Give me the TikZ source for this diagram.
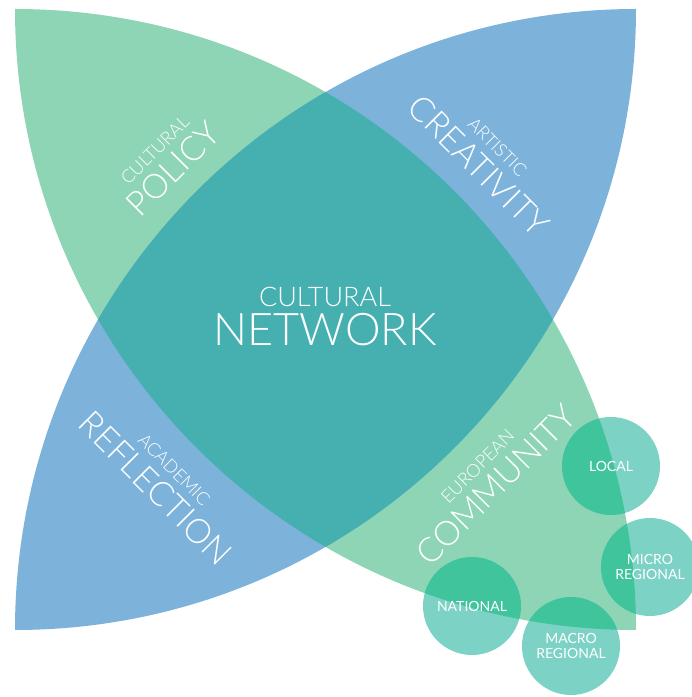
\documentclass[tikz,border=0pt]{standalone}
\usepackage{fontspec}
\setmainfont{Lato}
\newfontfamily\lightfont{Lato Light}
\definecolor{lgreen}{HTML}{8DD5B5}
\definecolor{lblue}{HTML}{7DB3DA}
\definecolor{mteal}{HTML}{46B0B0}
\definecolor{cirlight}{HTML}{7DD2C6}
\definecolor{cirdark}{HTML}{3FC49C}
\newcommand\greenlens{(15,688) arc[start angle=90,end angle=0,radius=621] arc[start angle=270,end angle=180,radius=621] -- cycle}
\newcommand\bluelens{(636,688) arc[start angle=90,end angle=180,radius=621] arc[start angle=270,end angle=360,radius=621] -- cycle}
\newcommand\smallword[1]{{\fontsize{18}{18}\selectfont #1}}
\tikzset{
  petal/.style={text=white, align=center, inner sep=0pt, font=\lightfont\fontsize{34}{31.7}\selectfont},
  cirnode/.style={circle, minimum size=98pt, inner sep=0pt, fill=cirlight},
  cirtext/.style={text=white, align=center, font=\fontsize{14}{15}\selectfont, inner sep=0pt}
}
\begin{document}
\begin{tikzpicture}[x=1pt,y=1pt]
\useasboundingbox (0,0) rectangle (692,697);
% lenses
\fill[lgreen] \greenlens;
\fill[lblue] \bluelens;
\begin{scope}
  \clip \greenlens;
  \fill[mteal] \bluelens;
\end{scope}
% small circles
\node[cirnode] (local) at (611,231) {};
\node[cirnode] (micro) at (650,130) {};
\node[cirnode] (national) at (472,91) {};
\node[cirnode] (macro) at (571,51) {};
\begin{scope}
  \clip \greenlens;
  \fill[cirdark] (local.center) circle (49);
  \fill[cirdark] (micro.center) circle (49);
  \fill[cirdark] (national.center) circle (49);
  \fill[cirdark] (macro.center) circle (49);
\end{scope}
\node[cirtext] (localt) at (local) {LOCAL};
\node[cirtext] (microt) at (micro) {MICRO\\REGIONAL};
\node[cirtext] (nationalt) at (national) {NATIONAL};
\node[cirtext] (macrot) at (macro) {MACRO\\REGIONAL};
% centre
\node[text=white, align=center, inner sep=0pt, font=\lightfont\fontsize{45}{39.5}\selectfont] (net) at (325,380.3) {{\fontsize{27}{27}\selectfont CULTURAL}\\NETWORK};
% petals
\node[petal, rotate=45] (policy) at (166.1,535.6) {\smallword{CULTURAL}\\POLICY};
\node[petal, rotate=-45] (creat) at (486.2,538.6) {\smallword{ARTISTIC}\\CREATIVITY};
\node[petal, rotate=-45] (refl) at (162.9,216.2) {\smallword{ACADEMIC}\\REFLECTION};
\node[petal, rotate=45] (comm) at (488.8,219.4) {\smallword{EUROPEAN}\\COMMUNITY};
\end{tikzpicture}
\end{document}
